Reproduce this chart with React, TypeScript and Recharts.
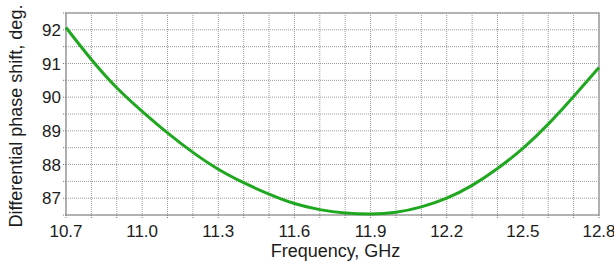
import React from "react";
import {
  LineChart,
  Line,
  XAxis,
  YAxis,
  CartesianGrid,
  ReferenceArea,
} from "recharts";

// ── data ───────────────────────────────────────────────────────────────────
const FREQ = [
  10.7, 10.8, 10.9, 11.0, 11.1, 11.2, 11.3, 11.4, 11.5, 11.6, 11.7,
  11.8, 11.9, 12.0, 12.1, 12.2, 12.3, 12.4, 12.5, 12.6, 12.7, 12.8,
];
const PHASE = [
  92.07, 91.12, 90.28, 89.58, 88.94, 88.36, 87.86, 87.46, 87.12, 86.84, 86.66,
  86.56, 86.53, 86.58, 86.74, 87.0, 87.38, 87.88, 88.48, 89.2, 90.02, 90.88,
];

// grid every 0.1 GHz / 0.5 deg, labels every 0.3 GHz / 1 deg
const X_TICKS = FREQ;
const X_LABELS = [10.7, 11.0, 11.3, 11.6, 11.9, 12.2, 12.5, 12.8];
const Y_TICKS = [86.5, 87, 87.5, 88, 88.5, 89, 89.5, 90, 90.5, 91, 91.5, 92, 92.5];
const Y_LABELS = [87, 88, 89, 90, 91, 92];

const X_TITLE = "Frequency, GHz";
const Y_TITLE = "Differential phase shift, deg.";

const data = FREQ.map((f, i) => ({ f, v: PHASE[i] }));

const FONT = "'Liberation Sans', Arial, sans-serif";
const GRID = "#9a9a9a";
const FRAME = "#a3a3a3";
const TEXT = "#1c1c1c";

const has = (list: number[], v: number) => list.some((l) => Math.abs(l - v) < 1e-6);

export default function App() {
  return (
    <div style={{ position: "absolute", left: 0, top: 0, width: 614, height: 266, background: "#fff" }}>
      <LineChart width={614} height={266} data={data} margin={{ top: 13, right: 15, bottom: 0, left: 0 }}>
        <CartesianGrid stroke={GRID} strokeDasharray="1 1" strokeWidth={1} />
        <XAxis
          dataKey="f"
          type="number"
          height={51}
          domain={[10.7, 12.8]}
          ticks={X_TICKS}
          interval={0}
          tickFormatter={(v: number) => (has(X_LABELS, v) ? v.toFixed(1) : "")}
          tick={{ fill: TEXT, fontSize: 17, fontFamily: FONT }}
          tickSize={3}
          tickMargin={7}
          tickLine={{ stroke: "#777", strokeDasharray: "1 1" }}
          axisLine={false}
          label={{
            value: X_TITLE,
            position: "insideBottom",
            offset: 9,
            dx: 3,
            style: { fill: TEXT, fontSize: 18, fontFamily: FONT },
          }}
        />
        <YAxis
          type="number"
          width={66}
          domain={[86.5, 92.5]}
          ticks={Y_TICKS}
          interval={0}
          tickFormatter={(v: number) => (has(Y_LABELS, v) ? String(v) : "")}
          tick={{ fill: TEXT, fontSize: 17, fontFamily: FONT }}
          tickSize={3}
          tickMargin={2}
          tickLine={{ stroke: "#777", strokeDasharray: "1 1" }}
          axisLine={false}
          label={{
            content: () => (
              <text
                x={16}
                y={116}
                transform="rotate(-90 16 116)"
                textAnchor="middle"
                dominantBaseline="central"
                fill={TEXT}
                fontSize={18}
                fontFamily={FONT}
              >
                {Y_TITLE}
              </text>
            ),
          }}
        />
        <ReferenceArea
          x1={10.7}
          x2={12.8}
          y1={86.5}
          y2={92.5}
          fill="none"
          fillOpacity={0}
          stroke={FRAME}
          strokeWidth={1.6}
          ifOverflow="visible"
        />
        <Line
          type="natural"
          dataKey="v"
          stroke="#1fa81f"
          strokeWidth={3}
          dot={false}
          isAnimationActive={false}
        />
      </LineChart>
    </div>
  );
}
